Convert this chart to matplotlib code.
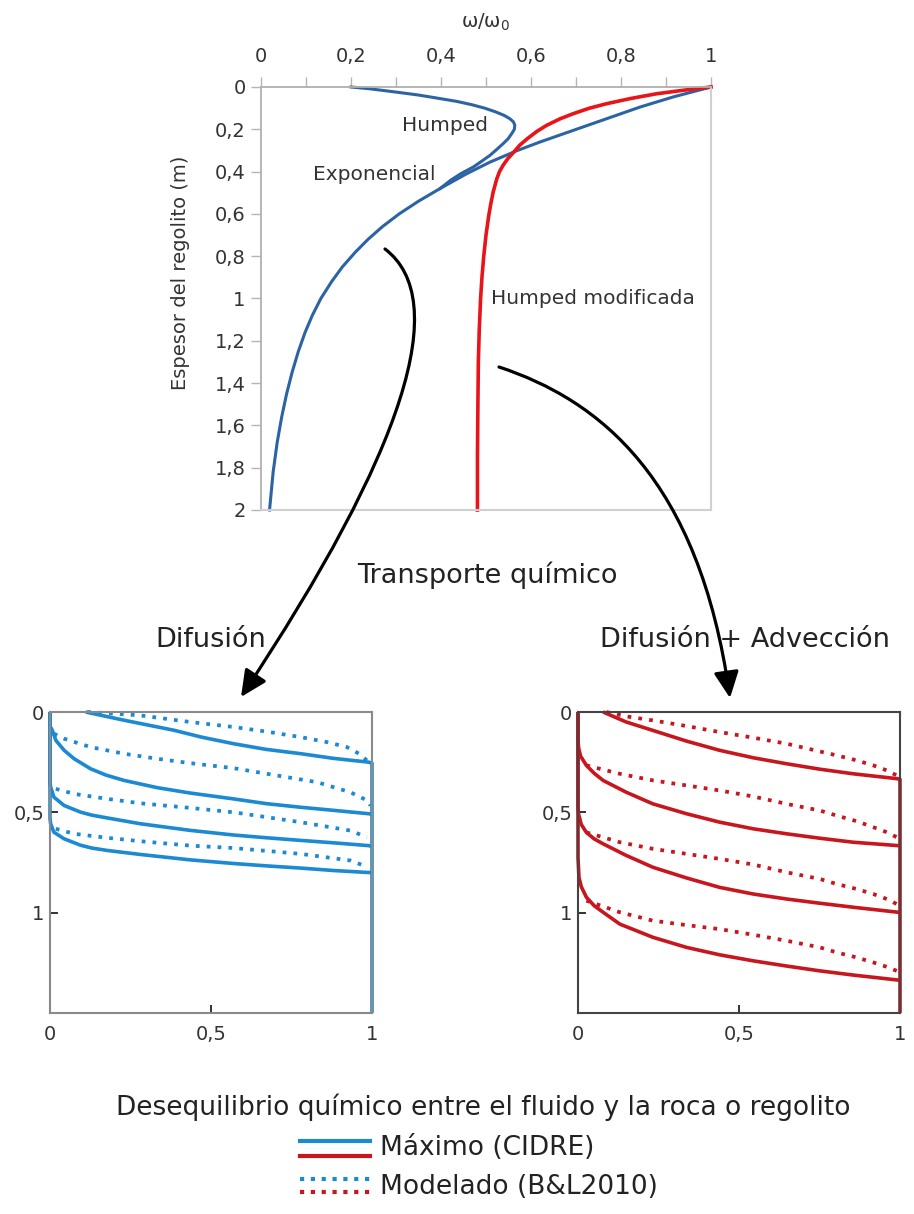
import matplotlib
matplotlib.use('Agg')
import matplotlib.pyplot as plt
from matplotlib.lines import Line2D
from matplotlib.patches import FancyArrowPatch
from matplotlib.path import Path
from matplotlib.ticker import MultipleLocator

W, H = 914, 1214

# ---- top chart: omega/omega0 against regolith depth ----
exp_depth = [0, 0.047, 0.095, 0.15, 0.205, 0.26, 0.3, 0.355, 0.41, 0.48, 0.54, 0.6,
             0.66, 0.72, 0.78, 0.85, 0.92, 1.0, 1.08, 1.16, 1.25, 1.35, 1.45, 1.56,
             1.68, 1.82, 2.0]
exp_ratio = [1.0, 0.916, 0.842, 0.768, 0.694, 0.62, 0.57, 0.509, 0.457, 0.398, 0.35,
             0.307, 0.27, 0.238, 0.21, 0.181, 0.157, 0.133, 0.114, 0.098, 0.083, 0.069,
             0.057, 0.046, 0.036, 0.027, 0.019]

humped_depth = [0, 0.008, 0.016, 0.024, 0.038, 0.052, 0.068, 0.084, 0.1, 0.118, 0.135,
                0.15, 0.165, 0.181, 0.2, 0.221, 0.245, 0.268, 0.295, 0.323, 0.35,
                0.378, 0.41, 0.44, 0.48]
humped_ratio = [0.2, 0.24, 0.27, 0.3, 0.35, 0.39, 0.435, 0.469, 0.497, 0.522, 0.541,
                0.553, 0.561, 0.564, 0.563, 0.557, 0.549, 0.538, 0.524, 0.509, 0.491,
                0.472, 0.444, 0.422, 0.398]

mod_depth = [0, 0.015, 0.032, 0.055, 0.079, 0.1, 0.126, 0.15, 0.181, 0.21, 0.244, 0.275,
             0.307, 0.34, 0.37, 0.4, 0.434, 0.496, 0.56, 0.61, 0.7, 0.8, 0.9, 1.0, 1.15,
             1.3, 1.5, 1.75, 2.0]
mod_ratio = [1.0, 0.94, 0.879, 0.82, 0.768, 0.73, 0.694, 0.665, 0.635, 0.613, 0.592,
             0.575, 0.562, 0.548, 0.538, 0.53, 0.524, 0.516, 0.51, 0.506, 0.5, 0.495,
             0.491, 0.488, 0.485, 0.483, 0.482, 0.481, 0.481]

top_xticks = [0, 0.2, 0.4, 0.6, 0.8, 1]
top_xtick_labels = ['0', '0,2', '0,4', '0,6', '0,8', '1']
top_yticks = [0, 0.2, 0.4, 0.6, 0.8, 1, 1.2, 1.4, 1.6, 1.8, 2]
top_ytick_labels = ['0', '0,2', '0,4', '0,6', '0,8', '1', '1,2', '1,4', '1,6', '1,8', '2']

# ---- bottom panels: disequilibrium profiles (x: disequilibrium, y: depth) ----
dif_solid_x = [
    [0.111, 0.23, 0.385, 0.47, 0.57, 0.67, 0.78, 0.88, 0.99, 1, 1],
    [0, 0, 0.007, 0.018, 0.044, 0.075, 0.126, 0.175, 0.23, 0.333, 0.436, 0.57, 0.673,
     0.78, 0.88, 0.99, 1],
    [0, 0, 0.002, 0.012, 0.044, 0.095, 0.13, 0.178, 0.281, 0.436, 0.57, 0.674, 0.78,
     0.881, 0.99, 1],
    [0, 0, 0.002, 0.012, 0.044, 0.095, 0.13, 0.178, 0.281, 0.436, 0.57, 0.674, 0.78,
     0.881, 0.99, 1],
]
dif_solid_y = [
    [0, 0.041, 0.091, 0.125, 0.158, 0.186, 0.208, 0.231, 0.25, 0.255, 1.5],
    [0, 0.07, 0.091, 0.141, 0.191, 0.233, 0.283, 0.315, 0.341, 0.377, 0.404, 0.433,
     0.457, 0.475, 0.49, 0.507, 0.51],
    [0, 0.35, 0.374, 0.424, 0.466, 0.499, 0.514, 0.528, 0.557, 0.59, 0.613, 0.627, 0.64,
     0.652, 0.666, 0.67],
    [0, 0.53, 0.557, 0.599, 0.632, 0.664, 0.678, 0.69, 0.71, 0.737, 0.755, 0.767, 0.778,
     0.79, 0.8, 0.8],
]
dif_dotted_x = [
    [0.116, 0.2, 0.281, 0.436, 0.571, 0.674, 0.778, 0.86, 0.922, 0.96, 0.984],
    [0.012, 0.044, 0.126, 0.23, 0.333, 0.436, 0.571, 0.674, 0.83, 0.933, 0.984, 0.995],
    [0.018, 0.075, 0.178, 0.281, 0.436, 0.571, 0.778, 0.933, 0.984],
    [0.018, 0.075, 0.178, 0.281, 0.436, 0.571, 0.778, 0.933, 0.974],
]
dif_dotted_y = [
    [0, 0.008, 0.017, 0.05, 0.075, 0.098, 0.125, 0.15, 0.175, 0.208, 0.241],
    [0.108, 0.133, 0.175, 0.208, 0.233, 0.255, 0.28, 0.308, 0.35, 0.4, 0.44, 0.466],
    [0.383, 0.408, 0.433, 0.455, 0.478, 0.5, 0.549, 0.591, 0.624],
    [0.582, 0.607, 0.627, 0.644, 0.666, 0.678, 0.707, 0.74, 0.765],
]

adv_solid_x = [
    [0.078, 0.15, 0.233, 0.337, 0.44, 0.544, 0.648, 0.751, 0.855, 0.995, 1, 1],
    [0, 0, 0.002, 0.008, 0.026, 0.05, 0.078, 0.15, 0.233, 0.337, 0.44, 0.544, 0.648,
     0.751, 0.855, 0.995, 1],
    [0, 0, 0.002, 0.01, 0.026, 0.05, 0.078, 0.15, 0.233, 0.337, 0.44, 0.544, 0.648,
     0.751, 0.855, 0.995, 1],
    [0, 0, 0.003, 0.01, 0.026, 0.05, 0.078, 0.13, 0.233, 0.337, 0.44, 0.544, 0.648,
     0.751, 0.855, 0.995, 1],
]
adv_solid_y = [
    [0, 0.05, 0.092, 0.145, 0.191, 0.228, 0.258, 0.285, 0.308, 0.333, 0.335, 1.5],
    [0, 0.14, 0.18, 0.22, 0.266, 0.305, 0.341, 0.4, 0.458, 0.507, 0.549, 0.582, 0.607,
     0.629, 0.649, 0.666, 0.668],
    [0, 0.474, 0.51, 0.56, 0.6, 0.632, 0.657, 0.715, 0.774, 0.827, 0.874, 0.907, 0.932,
     0.953, 0.973, 0.998, 1.0],
    [0, 0.724, 0.824, 0.87, 0.923, 0.965, 0.998, 1.057, 1.123, 1.173, 1.21, 1.24, 1.266,
     1.29, 1.311, 1.336, 1.338],
]
adv_dotted_x = [
    [0.088, 0.15, 0.233, 0.337, 0.44, 0.544, 0.648, 0.803, 0.865, 0.917, 0.959, 0.99],
    [0.026, 0.13, 0.233, 0.337, 0.44, 0.544, 0.648, 0.751, 0.803, 0.865, 0.917, 0.959, 0.99],
    [0.026, 0.13, 0.233, 0.337, 0.44, 0.544, 0.648, 0.751, 0.803, 0.865, 0.917, 0.959, 0.99],
    [0.026, 0.13, 0.233, 0.337, 0.44, 0.544, 0.648, 0.751, 0.803, 0.865, 0.917, 0.959, 0.99],
]
adv_dotted_y = [
    [0, 0.022, 0.042, 0.07, 0.1, 0.128, 0.158, 0.216, 0.241, 0.266, 0.291, 0.316],
    [0.266, 0.308, 0.341, 0.366, 0.391, 0.421, 0.458, 0.491, 0.516, 0.544, 0.574, 0.599, 0.624],
    [0.6, 0.649, 0.682, 0.707, 0.732, 0.76, 0.799, 0.832, 0.857, 0.882, 0.907, 0.932, 0.957],
    [0.94, 0.998, 1.04, 1.062, 1.082, 1.11, 1.14, 1.173, 1.198, 1.223, 1.248, 1.27, 1.29],
]

bottom_ticks = [0, 0.5, 1]
bottom_tick_labels = ['0', '0,5', '1']

TOP_BLUE = '#2b63a4'
TOP_RED = '#e8141a'
BLUE = '#1b8ad3'
RED = '#c8161f'
TXT = '#333333'


def rect_px(left, top, right, bottom):
    return [left / W, 1 - bottom / H, (right - left) / W, (bottom - top) / H]


def fxy(px, py):
    return px / W, 1 - py / H


fig = plt.figure(figsize=(W / 100, H / 100), dpi=100)

# top chart
ax = fig.add_axes(rect_px(261, 87, 711, 510))
ax.plot(exp_ratio, exp_depth, color=TOP_BLUE, lw=2.2, clip_on=False, solid_joinstyle='round')
ax.plot(humped_ratio, humped_depth, color=TOP_BLUE, lw=2.2, clip_on=False, solid_joinstyle='round')
ax.plot(mod_ratio, mod_depth, color=TOP_RED, lw=2.6, clip_on=False, solid_joinstyle='round')
ax.set_xlim(0, 1)
ax.set_ylim(2, 0)
ax.xaxis.tick_top()
ax.set_xticks(top_xticks, top_xtick_labels)
ax.xaxis.set_minor_locator(MultipleLocator(0.1))
ax.set_yticks(top_yticks, top_ytick_labels)
ax.tick_params(axis='x', which='both', direction='out', length=7, width=1,
               color='#b5b5b5', pad=8, labelsize=14, labelcolor=TXT)
ax.tick_params(axis='y', direction='out', length=7, width=1,
               color='#b5b5b5', pad=4, labelsize=14, labelcolor=TXT)
for side in ['top', 'left']:
    ax.spines[side].set_color('#b0b0b0')
    ax.spines[side].set_linewidth(1.3)
for side in ['right', 'bottom']:
    ax.spines[side].set_color('#d0d0d0')
    ax.spines[side].set_linewidth(1.5)
ax.text(0.41, 0.18, 'Humped', ha='center', va='center', fontsize=14.5, color=TXT)
ax.text(0.251, 0.416, 'Exponencial', ha='center', va='center', fontsize=14.5, color=TXT)
ax.text(0.737, 1.0, 'Humped modificada', ha='center', va='center', fontsize=14.5, color=TXT)

fig.text(*fxy(486, 22), 'ω/ω$_0$', ha='center', va='center', fontsize=14, color=TXT)
fig.text(*fxy(180, 273), 'Espesor del regolito (m)', rotation=90, ha='center', va='center',
         fontsize=14, color=TXT)


def profile_panel(rect, sx, sy, dx, dy, color, spine_color):
    a = fig.add_axes(rect)
    for xs, ys in zip(sx, sy):
        a.plot(xs, ys, color=color, lw=2.6, clip_on=False,
               solid_joinstyle='round', solid_capstyle='butt')
    for xs, ys in zip(dx, dy):
        a.plot(xs, ys, color=color, lw=2.7, ls=(0, (1, 1.9)), clip_on=False)
    a.set_xlim(0, 1)
    a.set_ylim(1.5, 0)
    a.set_xticks(bottom_ticks, bottom_tick_labels)
    a.set_yticks(bottom_ticks, bottom_tick_labels)
    a.tick_params(axis='x', direction='in', length=6, width=1.3, color='#222222',
                  pad=9, labelsize=14, labelcolor=TXT)
    a.tick_params(axis='y', direction='in', length=6, width=1.3, color='#222222',
                  pad=4, labelsize=14, labelcolor=TXT)
    for s in a.spines.values():
        s.set_color(spine_color)
        s.set_linewidth(1.5)
    return a


profile_panel(rect_px(50, 712, 372, 1013), dif_solid_x, dif_solid_y,
              dif_dotted_x, dif_dotted_y, BLUE, '#8a8a8a')
profile_panel(rect_px(578, 712, 900, 1013), adv_solid_x, adv_solid_y,
              adv_dotted_x, adv_dotted_y, RED, '#444444')

# curved arrows from the top chart to the two panels
left_arrow_px = [(385, 249), (452, 300), (405, 450), (241, 697)]
right_arrow_px = [(499, 367), (599, 400), (699, 478), (730, 698)]
codes = [Path.MOVETO, Path.CURVE4, Path.CURVE4, Path.CURVE4]
for pts in [left_arrow_px, right_arrow_px]:
    path = Path([fxy(px, py) for px, py in pts], codes)
    arr = FancyArrowPatch(path=path, arrowstyle='-|>,head_length=0.8,head_width=0.38',
                          mutation_scale=20, lw=2.3, color='black',
                          transform=fig.transFigure, capstyle='round')
    fig.add_artist(arr)

fig.text(*fxy(487, 575), 'Transporte químico', ha='center', va='center', fontsize=19.5, color='#222222')
fig.text(*fxy(211, 640), 'Difusión', ha='center', va='center', fontsize=19.5, color='#222222')
fig.text(*fxy(745, 640), 'Difusión + Advección', ha='center', va='center', fontsize=19.5, color='#222222')
fig.text(*fxy(483, 1107), 'Desequilibrio químico entre el fluido y la roca o regolito',
         ha='center', va='center', fontsize=19, color='#222222')

# legend drawn by hand: two colours stacked per line style
legend_rows = [
    ('Máximo (CIDRE)', '-', 1141, 1156, 1148),
    ('Modelado (B&L2010)', (0, (1, 1.6)), 1179, 1192, 1187),
]
for label, ls, yb, yr, yt in legend_rows:
    for yy, col in [(yb, BLUE), (yr, RED)]:
        x0, y0 = fxy(300, yy)
        x1, _ = fxy(370, yy)
        fig.add_artist(Line2D([x0, x1], [y0, y0], transform=fig.transFigure,
                              color=col, lw=3, ls=ls))
    fig.text(*fxy(380, yt), label, ha='left', va='center', fontsize=19, color='#222222')

fig.savefig('out.png', dpi=100)
